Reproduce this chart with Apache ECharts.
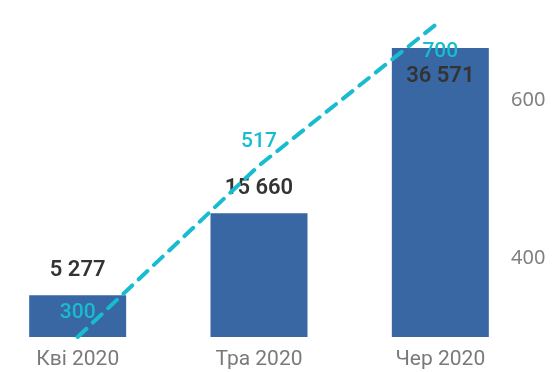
<!DOCTYPE html>
<html><head><meta charset="utf-8">
<script src="https://cdn.jsdelivr.net/npm/echarts@6/dist/echarts.min.js"></script>
<style>html,body{margin:0;padding:0;background:#fff}#c{width:553px;height:372px}</style>
</head><body><div id="c"></div>
<script>
const categories = ['Кві 2020', 'Тра 2020', 'Чер 2020'];
const barValues = [5277, 15660, 36571];
const lineValues = [300, 517, 700];
const rightTickLabels = [400, 600];

const fmtSpace = v => String(v).replace(/\B(?=(\d{3})+(?!\d))/g, ' ');

const chart = echarts.init(document.getElementById('c'));
chart.setOption({
  animation: false,
  grid: { left: -13, right: 22, top: 21, bottom: 35, outerBoundsMode: 'none' },
  xAxis: {
    type: 'category', data: categories,
    axisLine: { show: false }, axisTick: { show: false },
    axisLabel: { color: '#7a7a7a', fontSize: 21, fontFamily: 'Roboto', margin: 12 }
  },
  yAxis: [
    { type: 'value', min: 0, max: 40000, show: false, splitLine: { show: false } },
    { type: 'value', position: 'right', min: 300, max: 700, interval: 100,
      axisLine: { show: false }, axisTick: { show: false }, splitLine: { show: false },
      axisLabel: { color: '#808080', fontSize: 20, fontFamily: 'Noto Sans', margin: -20,
        formatter: v => rightTickLabels.includes(v) ? String(v) : '' } }
  ],
  series: [
    { type: 'bar', yAxisIndex: 0, barWidth: 97,
      itemStyle: { color: '#3867a3' },
      data: barValues.map((v, i) => ({
        value: v,
        label: i === barValues.length - 1 ? { position: 'insideTop', distance: 17 } : {}
      })),
      label: { show: true, position: 'top', distance: 14, color: '#333333', fontSize: 22,
        fontWeight: 600, fontFamily: 'Roboto', formatter: p => fmtSpace(p.value) }
    },
    { type: 'line', yAxisIndex: 1, symbol: 'circle', symbolSize: 1, z: 5,
      itemStyle: { color: 'rgba(0,0,0,0)' },
      lineStyle: { color: '#17bcd1', width: 4, type: [12, 9], cap: 'round' },
      data: lineValues.map((v, i) => ({
        value: v,
        label: i === lineValues.length - 1 ? { position: 'bottom', distance: 20 } : {}
      })),
      label: { show: true, position: 'top', distance: 13, color: '#17bcd1', fontSize: 21,
        fontWeight: 500, fontFamily: 'Roboto' }
    }
  ]
});
</script></body></html>
